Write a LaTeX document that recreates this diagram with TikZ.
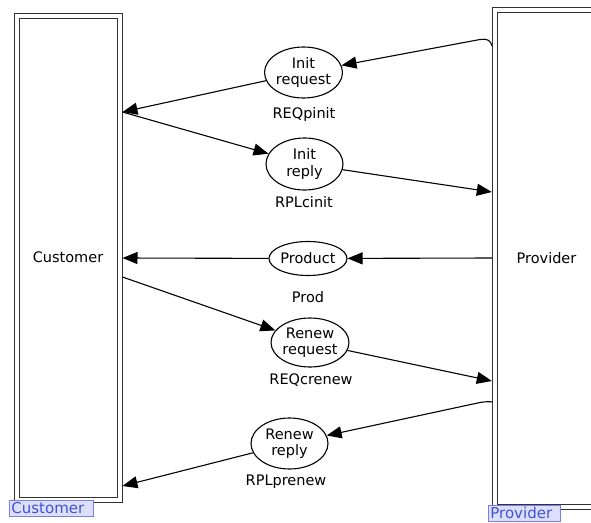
\documentclass[tikz,border=0pt]{standalone}
\usepackage{fontspec}
\setmainfont{DejaVu Sans}
\usetikzlibrary{shapes.geometric,arrows.meta}
\definecolor{tagfill}{RGB}{221,223,250}
\definecolor{tagdraw}{RGB}{118,128,232}
\definecolor{tagtext}{RGB}{64,84,214}
\begin{document}
\begin{tikzpicture}[x=1pt,y=-1pt,
  font=\fontsize{14.5}{16.5}\selectfont,
  lane/.style={draw=black!80, line width=1pt, double=white, double distance=4pt,
    rectangle, inner sep=0pt},
  place/.style={draw, ellipse, line width=1.1pt, inner sep=0pt, align=center},
  caption/.style={anchor=base, inner sep=0pt},
  tag/.style={draw=tagdraw, fill=tagfill, text=tagtext, line width=0.8pt,
    inner sep=2pt, minimum height=15.5pt, align=left, font=\fontsize{15}{16}\selectfont},
  flow/.style={line width=1.1pt, -{Triangle[length=15pt,width=12pt]}}]
\useasboundingbox (0,0) rectangle (591,522);
\clip (0,0) rectangle (591,522);
\fill[white] (0,0) rectangle (591,522);

% swimlane boxes
\node[lane, minimum width=103pt, minimum height=484pt] (cust) at (68,257.5) {Customer};
\node[lane, minimum width=160pt, minimum height=496.5pt, anchor=north west] (prov) at (494.5,9.5) {};
\node (provtext) at (546.5,258) {Provider};

% lane tags
\node[tag, anchor=north west, text width=80pt] (custtag) at (9,500) {Customer};
\node[tag, anchor=north west, text width=68pt] (provtag) at (488,505) {Provider};

% message places
\node[place, minimum width=77pt, minimum height=51pt] (irq) at (303.5,72.5) {Init\\request};
\node[place, minimum width=77pt, minimum height=52pt] (irp) at (304.5,164) {Init\\reply};
\node[place, minimum width=78pt, minimum height=34pt] (prod) at (308,258.5) {Product};
\node[place, minimum width=74pt, minimum height=49pt] (rrq) at (310,342.5) {Renew\\request};
\node[place, minimum width=77pt, minimum height=51pt] (rrp) at (289.5,443.5) {Renew\\reply};

% place captions
\node[caption] (lirq) at (304,118.5) {REQpinit};
\node[caption] (lirp) at (304,207.5) {RPLcinit};
\node[caption] (lprod) at (308,302) {Prod};
\node[caption] (lrrq) at (311,384) {REQcrenew};
\node[caption] (lrrp) at (286,485) {RPLprenew};

% ports on the lane borders
\coordinate (c1) at (122.5,112);
\coordinate (c2) at (122.5,258);
\coordinate (c3) at (122.5,277);
\coordinate (c4) at (122.5,486);
\coordinate (p1) at (492,46);
\coordinate (p2) at (491.8,192);
\coordinate (p3) at (492,258);
\coordinate (p4) at (491.8,381);
\coordinate (p5) at (492,402);

% message flows
\draw[flow] (p1) .. controls (490.5,40) and (487,38.5) .. (480,39.5) -- (irq);
\draw[flow] (irq) -- (c1);
\draw[flow] (c1) -- (irp);
\draw[flow] (irp) -- (p2);
\draw[flow] (p3) -- (prod);
\draw[flow] (prod) -- (c2);
\draw[flow] (c3) -- (rrq);
\draw[flow] (rrq) -- (p4);
\draw[flow] (p5) .. controls (490,401.5) and (486,401.5) .. (480,402.5) -- (rrp);
\draw[flow] (rrp) -- (c4);
\end{tikzpicture}
\end{document}
